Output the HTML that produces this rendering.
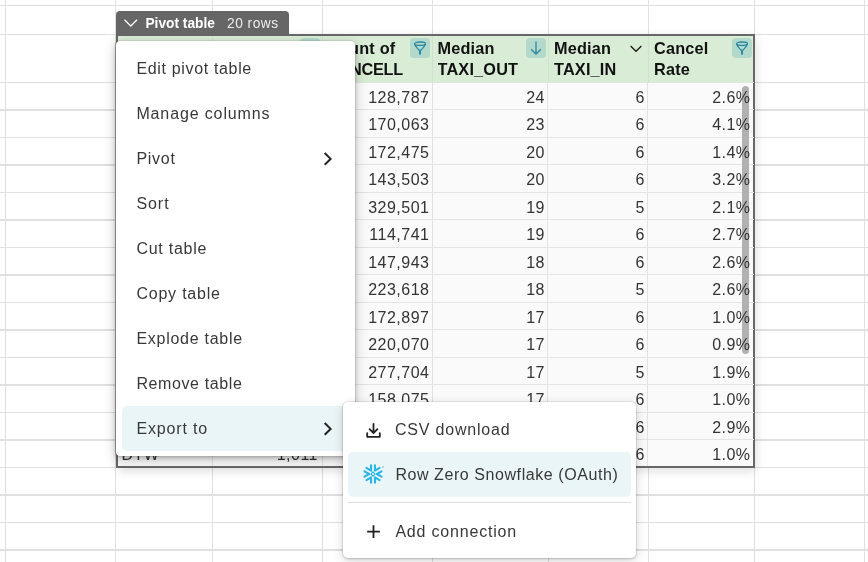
<!DOCTYPE html>
<html><head><meta charset="utf-8"><style>
*{margin:0;padding:0;box-sizing:border-box}
html,body{width:868px;height:562px;overflow:hidden;background:#fff;font-family:"Liberation Sans",sans-serif}
.wrap{position:absolute;left:0;top:0;width:868px;height:562px;will-change:transform}
.a{position:absolute}
.vl{position:absolute;top:0;height:562px;width:1.25px;background:#e0e0e0}
.hl{position:absolute;left:0;width:868px;height:1.25px;background:#e0e0e0}
.cell{position:absolute;height:27.5px;line-height:29.5px;font-size:16px;letter-spacing:0.5px;color:#333;text-align:right;white-space:nowrap;overflow:hidden}
.rl{position:absolute;height:1px;background:#e4e4e4}
.hd{position:absolute;font-size:16.25px;font-weight:bold;color:#111;line-height:21px;letter-spacing:0.2px;white-space:nowrap;overflow:hidden}
.btn{position:absolute;width:20px;height:20px;border-radius:4px;background:#b3d9cd}
.mi{position:absolute;left:21px;font-size:16px;letter-spacing:0.65px;color:#383838;white-space:nowrap;line-height:45px}
</style></head><body><div class="wrap">

<div class="vl" style="left:5.0px"></div>
<div class="vl" style="left:115.0px"></div>
<div class="vl" style="left:212.0px"></div>
<div class="vl" style="left:322.0px"></div>
<div class="vl" style="left:432.0px"></div>
<div class="vl" style="left:547.5px"></div>
<div class="vl" style="left:647.5px"></div>
<div class="vl" style="left:754.0px"></div>
<div class="vl" style="left:864.0px"></div>
<div class="hl" style="top:5.15px"></div>
<div class="hl" style="top:33.65px"></div>
<div class="hl" style="top:81.9px"></div>
<div class="hl" style="top:109.4px"></div>
<div class="hl" style="top:136.9px"></div>
<div class="hl" style="top:164.4px"></div>
<div class="hl" style="top:191.9px"></div>
<div class="hl" style="top:219.4px"></div>
<div class="hl" style="top:246.9px"></div>
<div class="hl" style="top:274.4px"></div>
<div class="hl" style="top:301.9px"></div>
<div class="hl" style="top:329.4px"></div>
<div class="hl" style="top:356.9px"></div>
<div class="hl" style="top:384.4px"></div>
<div class="hl" style="top:411.9px"></div>
<div class="hl" style="top:439.4px"></div>
<div class="hl" style="top:466.9px"></div>
<div class="hl" style="top:494.4px"></div>
<div class="hl" style="top:521.9px"></div>
<div class="hl" style="top:549.4px"></div>
<div class="a" style="left:116px;top:33.8px;width:639.3px;height:434.0px;background:#fafafa;border:2px solid #676767;box-shadow:1px 3px 10px rgba(0,0,0,0.13)"></div>
<div class="a" style="left:118px;top:35.8px;width:635.3px;height:46.7px;background:#d9ecd5"></div>
<div class="a" style="left:116px;top:11px;width:173px;height:25px;background:#666;border-radius:4px 4px 0 0"></div>
<svg class="a" style="left:123px;top:18px" width="16" height="10" viewBox="0 0 16 10"><path d="M1.5 1.8 L7.8 8 L14 1.8" fill="none" stroke="#fff" stroke-width="1.3"/></svg>
<div class="a" style="left:145.4px;top:11px;line-height:25px;font-size:13.75px;font-weight:bold;color:#fff;white-space:nowrap">Pivot table</div>
<div class="a" style="left:227px;top:11px;line-height:25px;font-size:13.75px;color:#ececec;letter-spacing:0.5px;white-space:nowrap">20 rows</div>
<div class="a" style="left:212.0px;top:35.8px;width:1.25px;height:46.7px;background:#d0e1cd"></div>
<div class="a" style="left:322.0px;top:35.8px;width:1.25px;height:46.7px;background:#d0e1cd"></div>
<div class="a" style="left:432.0px;top:35.8px;width:1.25px;height:46.7px;background:#d0e1cd"></div>
<div class="a" style="left:547.5px;top:35.8px;width:1.25px;height:46.7px;background:#d0e1cd"></div>
<div class="a" style="left:647.5px;top:35.8px;width:1.25px;height:46.7px;background:#d0e1cd"></div>
<div class="rl" style="left:118px;top:109px;width:636px;height:1px"></div>
<div class="rl" style="left:118px;top:137px;width:636px;height:1px"></div>
<div class="rl" style="left:118px;top:164px;width:636px;height:1px"></div>
<div class="rl" style="left:118px;top:192px;width:636px;height:1px"></div>
<div class="rl" style="left:118px;top:219px;width:636px;height:1px"></div>
<div class="rl" style="left:118px;top:247px;width:636px;height:1px"></div>
<div class="rl" style="left:118px;top:274px;width:636px;height:1px"></div>
<div class="rl" style="left:118px;top:302px;width:636px;height:1px"></div>
<div class="rl" style="left:118px;top:329px;width:636px;height:1px"></div>
<div class="rl" style="left:118px;top:357px;width:636px;height:1px"></div>
<div class="rl" style="left:118px;top:384px;width:636px;height:1px"></div>
<div class="rl" style="left:118px;top:412px;width:636px;height:1px"></div>
<div class="rl" style="left:118px;top:439px;width:636px;height:1px"></div>
<div class="a" style="left:212px;top:82.5px;width:1px;height:383.3px;background:#e2e2e2"></div>
<div class="a" style="left:322px;top:82.5px;width:1px;height:383.3px;background:#e2e2e2"></div>
<div class="a" style="left:432px;top:82.5px;width:1px;height:383.3px;background:#e2e2e2"></div>
<div class="a" style="left:547px;top:82.5px;width:1px;height:383.3px;background:#e2e2e2"></div>
<div class="a" style="left:647px;top:82.5px;width:1px;height:383.3px;background:#e2e2e2"></div>
<div class="a" style="left:118px;top:81.9px;width:636px;height:1.25px;background:#dfe6de"></div>
<div class="hd" style="left:327px;top:37.5px;width:77px">Count of<br><span style="letter-spacing:-0.25px">CANCELLED</span></div>
<div class="hd" style="left:437.5px;top:37.5px;width:88px">Median<br>TAXI_OUT</div>
<div class="hd" style="left:554px;top:37.5px;width:88px">Median<br>TAXI_IN</div>
<div class="hd" style="left:654px;top:37.5px;width:80px">Cancel<br>Rate</div>
<div class="btn" style="left:299.6px;top:38.2px"><svg width="20" height="20" viewBox="0 0 20 20" fill="none" stroke="#2a88a0"><ellipse cx="10" cy="5.7" rx="5.4" ry="1.7" stroke-width="1.3"/><path d="M4.7 6.2 Q5.2 8.2 9.1 12.2 M15.3 6.2 Q14.8 8.2 10.9 12.2" stroke-width="1.3"/><path d="M10 12.6 V15.8" stroke-width="2" stroke-linecap="round"/></svg></div>
<div class="btn" style="left:409.6px;top:38.2px"><svg width="20" height="20" viewBox="0 0 20 20" fill="none" stroke="#2a88a0"><ellipse cx="10" cy="5.7" rx="5.4" ry="1.7" stroke-width="1.3"/><path d="M4.7 6.2 Q5.2 8.2 9.1 12.2 M15.3 6.2 Q14.8 8.2 10.9 12.2" stroke-width="1.3"/><path d="M10 12.6 V15.8" stroke-width="2" stroke-linecap="round"/></svg></div>
<div class="btn" style="left:732.1px;top:38.1px"><svg width="20" height="20" viewBox="0 0 20 20" fill="none" stroke="#2a88a0"><ellipse cx="10" cy="5.7" rx="5.4" ry="1.7" stroke-width="1.3"/><path d="M4.7 6.2 Q5.2 8.2 9.1 12.2 M15.3 6.2 Q14.8 8.2 10.9 12.2" stroke-width="1.3"/><path d="M10 12.6 V15.8" stroke-width="2" stroke-linecap="round"/></svg></div>
<div class="btn" style="left:526px;top:38.3px"><svg width="20" height="20" viewBox="0 0 20 20"><path d="M10 3.5 V16 M5.2 11.2 L10 16 L14.8 11.2" fill="none" stroke="#2a88a0" stroke-width="1.3"/></svg></div>
<svg class="a" style="left:628px;top:43px" width="16" height="10" viewBox="0 0 16 10"><path d="M2.6 3 L8 8.3 L13.4 3" fill="none" stroke="#1a1a1a" stroke-width="1.3"/></svg>
<div class="a" style="left:742.2px;top:86px;width:7.2px;height:267.5px;border-radius:4px;background:#b1b1b1"></div>
<div class="cell" style="left:323px;top:82.5px;width:106.5px">128,787</div>
<div class="cell" style="left:433px;top:82.5px;width:112.0px">24</div>
<div class="cell" style="left:548.5px;top:82.5px;width:96.5px">6</div>
<div class="cell" style="left:648.5px;top:82.5px;width:102.1px">2.6%</div>
<div class="cell" style="left:323px;top:110.0px;width:106.5px">170,063</div>
<div class="cell" style="left:433px;top:110.0px;width:112.0px">23</div>
<div class="cell" style="left:548.5px;top:110.0px;width:96.5px">6</div>
<div class="cell" style="left:648.5px;top:110.0px;width:102.1px">4.1%</div>
<div class="cell" style="left:323px;top:137.5px;width:106.5px">172,475</div>
<div class="cell" style="left:433px;top:137.5px;width:112.0px">20</div>
<div class="cell" style="left:548.5px;top:137.5px;width:96.5px">6</div>
<div class="cell" style="left:648.5px;top:137.5px;width:102.1px">1.4%</div>
<div class="cell" style="left:323px;top:165.0px;width:106.5px">143,503</div>
<div class="cell" style="left:433px;top:165.0px;width:112.0px">20</div>
<div class="cell" style="left:548.5px;top:165.0px;width:96.5px">6</div>
<div class="cell" style="left:648.5px;top:165.0px;width:102.1px">3.2%</div>
<div class="cell" style="left:323px;top:192.5px;width:106.5px">329,501</div>
<div class="cell" style="left:433px;top:192.5px;width:112.0px">19</div>
<div class="cell" style="left:548.5px;top:192.5px;width:96.5px">5</div>
<div class="cell" style="left:648.5px;top:192.5px;width:102.1px">2.1%</div>
<div class="cell" style="left:323px;top:220.0px;width:106.5px">114,741</div>
<div class="cell" style="left:433px;top:220.0px;width:112.0px">19</div>
<div class="cell" style="left:548.5px;top:220.0px;width:96.5px">6</div>
<div class="cell" style="left:648.5px;top:220.0px;width:102.1px">2.7%</div>
<div class="cell" style="left:323px;top:247.5px;width:106.5px">147,943</div>
<div class="cell" style="left:433px;top:247.5px;width:112.0px">18</div>
<div class="cell" style="left:548.5px;top:247.5px;width:96.5px">6</div>
<div class="cell" style="left:648.5px;top:247.5px;width:102.1px">2.6%</div>
<div class="cell" style="left:323px;top:275.0px;width:106.5px">223,618</div>
<div class="cell" style="left:433px;top:275.0px;width:112.0px">18</div>
<div class="cell" style="left:548.5px;top:275.0px;width:96.5px">5</div>
<div class="cell" style="left:648.5px;top:275.0px;width:102.1px">2.6%</div>
<div class="cell" style="left:323px;top:302.5px;width:106.5px">172,897</div>
<div class="cell" style="left:433px;top:302.5px;width:112.0px">17</div>
<div class="cell" style="left:548.5px;top:302.5px;width:96.5px">6</div>
<div class="cell" style="left:648.5px;top:302.5px;width:102.1px">1.0%</div>
<div class="cell" style="left:323px;top:330.0px;width:106.5px">220,070</div>
<div class="cell" style="left:433px;top:330.0px;width:112.0px">17</div>
<div class="cell" style="left:548.5px;top:330.0px;width:96.5px">6</div>
<div class="cell" style="left:648.5px;top:330.0px;width:102.1px">0.9%</div>
<div class="cell" style="left:323px;top:357.5px;width:106.5px">277,704</div>
<div class="cell" style="left:433px;top:357.5px;width:112.0px">17</div>
<div class="cell" style="left:548.5px;top:357.5px;width:96.5px">5</div>
<div class="cell" style="left:648.5px;top:357.5px;width:102.1px">1.9%</div>
<div class="cell" style="left:323px;top:385.0px;width:106.5px">158,075</div>
<div class="cell" style="left:433px;top:385.0px;width:112.0px">17</div>
<div class="cell" style="left:548.5px;top:385.0px;width:96.5px">6</div>
<div class="cell" style="left:648.5px;top:385.0px;width:102.1px">1.0%</div>
<div class="cell" style="left:548.5px;top:412.5px;width:96.5px">6</div>
<div class="cell" style="left:648.5px;top:412.5px;width:102.1px">2.9%</div>
<div class="cell" style="left:548.5px;top:440.0px;width:96.5px">6</div>
<div class="cell" style="left:648.5px;top:440.0px;width:102.1px">1.0%</div>
<div class="cell" style="left:121.5px;top:440.0px;text-align:left">DTW</div>
<div class="cell" style="left:213px;top:440.0px;width:105px">1,011</div>
<div class="a" style="left:116px;top:40.5px;width:239px;height:415.8px;background:#fff;border-radius:4px;box-shadow:-1px 0 0 0 rgba(0,0,0,0.2),0 0 0 1px rgba(0,0,0,0.06),0 2px 4px rgba(0,0,0,0.2),0 4px 14px rgba(0,0,0,0.2)">
<div class="a" style="left:6px;top:365.5px;width:227px;height:45px;border-radius:5px;background:#eaf5f8"></div>
<div class="mi" style="left:20.4px;top:5.1px;letter-spacing:0.66px">Edit pivot table</div>
<div class="mi" style="left:20.4px;top:50.1px;letter-spacing:0.87px">Manage columns</div>
<div class="mi" style="left:20.4px;top:95.1px;letter-spacing:0.72px">Pivot</div>
<div class="mi" style="left:20.4px;top:140.1px;letter-spacing:0.95px">Sort</div>
<div class="mi" style="left:20.4px;top:185.1px;letter-spacing:0.74px">Cut table</div>
<div class="mi" style="left:20.4px;top:230.1px;letter-spacing:0.79px">Copy table</div>
<div class="mi" style="left:20.4px;top:275.1px;letter-spacing:0.73px">Explode table</div>
<div class="mi" style="left:20.4px;top:320.1px;letter-spacing:0.61px">Remove table</div>
<div class="mi" style="left:20.4px;top:365.1px;letter-spacing:0.85px">Export to</div>
<div class="a" style="left:206.8px;top:111px"><svg width="10" height="14" viewBox="0 0 10 14"><path d="M1.7 1.0 L7.6 6.9 L1.7 12.8" fill="none" stroke="#222" stroke-width="2"/></svg></div>
<div class="a" style="left:206.8px;top:381px"><svg width="10" height="14" viewBox="0 0 10 14"><path d="M1.7 1.0 L7.6 6.9 L1.7 12.8" fill="none" stroke="#222" stroke-width="2"/></svg></div>
</div>
<div class="a" style="left:343px;top:401.7px;width:293px;height:156px;background:#fff;border-radius:5px;box-shadow:0 0 0 1px rgba(0,0,0,0.06),0 1px 3px rgba(0,0,0,0.16),0 3px 12px rgba(0,0,0,0.16)">
<div class="a" style="left:5px;top:50.3px;width:283px;height:45.2px;border-radius:5px;background:#eaf5f8"></div>
<div class="a" style="left:5px;top:100.3px;width:283px;height:1.25px;background:#ddd"></div>
<div class="mi" style="left:52px;top:5.3px;letter-spacing:0.79px">CSV download</div>
<div class="mi" style="left:52.4px;top:50.3px;letter-spacing:0.57px">Row Zero Snowflake (OAuth)</div>
<div class="mi" style="left:52.4px;top:107.8px;letter-spacing:0.81px">Add connection</div>
<svg class="a" style="left:22px;top:20.5px" width="17" height="17" viewBox="0 0 17 17"><path d="M8.5 1.8 V11 M4.6 7.2 L8.5 11 L12.4 7.2 M2.2 11.2 V14.8 H14.8 V11.2" fill="none" stroke="#222" stroke-width="1.8" stroke-linecap="round" stroke-linejoin="round"/></svg>
<svg class="a" style="left:22px;top:121.5px" width="17" height="17" viewBox="0 0 17 17"><path d="M8.5 2.3 V15 M2.1 8.65 H14.9" fill="none" stroke="#222" stroke-width="1.8"/></svg>
<svg class="a" style="left:20px;top:62.7px;overflow:visible" width="20" height="20" viewBox="0 0 20 20"><path transform="rotate(30 10 10)" d="M7.35 1.5 L10 6.1 L12.65 1.5" fill="none" stroke="#29b5e8" stroke-width="2.1" stroke-linecap="round" stroke-linejoin="round"/><path transform="rotate(90 10 10)" d="M7.35 1.5 L10 6.1 L12.65 1.5" fill="none" stroke="#29b5e8" stroke-width="2.1" stroke-linecap="round" stroke-linejoin="round"/><path transform="rotate(150 10 10)" d="M7.35 1.5 L10 6.1 L12.65 1.5" fill="none" stroke="#29b5e8" stroke-width="2.1" stroke-linecap="round" stroke-linejoin="round"/><path transform="rotate(210 10 10)" d="M7.35 1.5 L10 6.1 L12.65 1.5" fill="none" stroke="#29b5e8" stroke-width="2.1" stroke-linecap="round" stroke-linejoin="round"/><path transform="rotate(270 10 10)" d="M7.35 1.5 L10 6.1 L12.65 1.5" fill="none" stroke="#29b5e8" stroke-width="2.1" stroke-linecap="round" stroke-linejoin="round"/><path transform="rotate(330 10 10)" d="M7.35 1.5 L10 6.1 L12.65 1.5" fill="none" stroke="#29b5e8" stroke-width="2.1" stroke-linecap="round" stroke-linejoin="round"/><path d="M10 7.9 L12.1 10 L10 12.1 L7.9 10 Z" fill="none" stroke="#29b5e8" stroke-width="1.1"/><circle cx="20" cy="3" r="0.7" fill="#29b5e8"/></svg>
</div>
</div></body></html>
